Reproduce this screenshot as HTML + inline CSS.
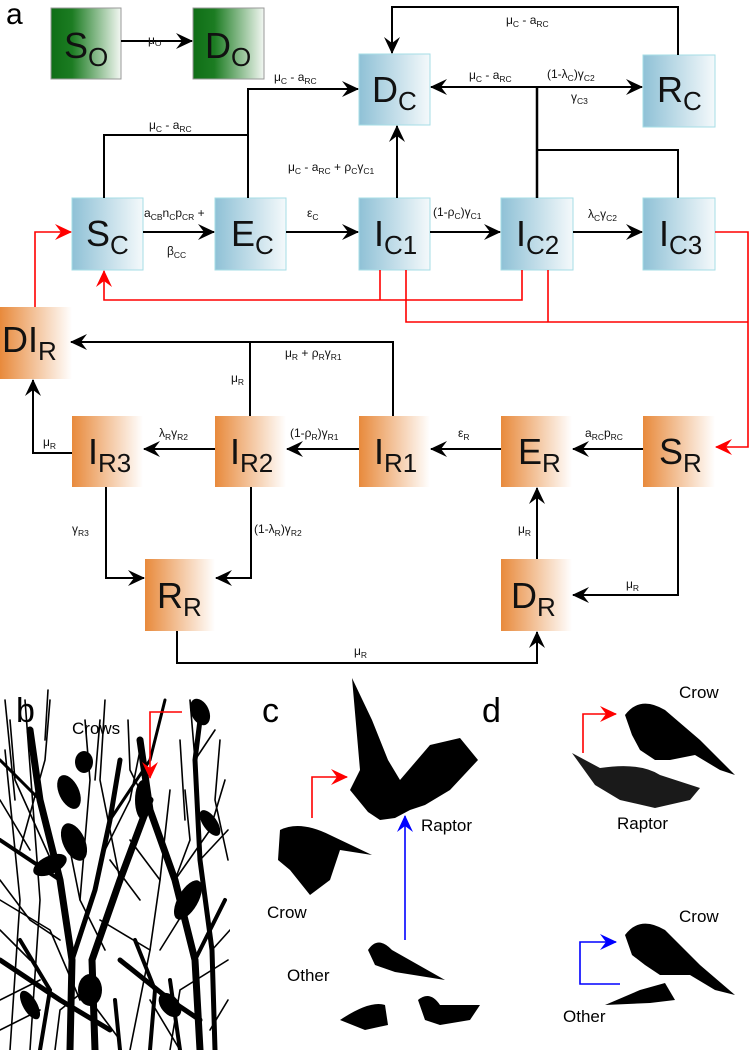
<!DOCTYPE html>
<html><head><meta charset="utf-8"><style>
html,body{margin:0;padding:0;background:#fff}
svg{display:block;font-family:"Liberation Sans","DejaVu Sans",sans-serif}
.l{font-size:12px}
.s{font-size:8.5px}
.b{font-size:36px}
</style></head><body>
<svg width="750" height="1050" viewBox="0 0 750 1050" xmlns="http://www.w3.org/2000/svg">
<defs>
<linearGradient id="gb" x1="0" x2="1"><stop offset="0" stop-color="#8fc1d6"/><stop offset="1" stop-color="#f4f9fb"/></linearGradient>
<linearGradient id="go" x1="0" x2="1"><stop offset="0" stop-color="#e88a3c"/><stop offset="1" stop-color="#ffffff"/></linearGradient>
<linearGradient id="gg" x1="0" x2="1"><stop offset="0" stop-color="#0f6e16"/><stop offset="0.3" stop-color="#1c7c22"/><stop offset="1" stop-color="#f2f7f2"/></linearGradient>
<marker id="a" markerWidth="18" markerHeight="16" refX="16" refY="8" orient="auto" markerUnits="userSpaceOnUse"><path d="M0,0 L17,8 L0,16 L6,8 z" fill="#000"/></marker>
<marker id="r" markerWidth="18" markerHeight="16" refX="16" refY="8" orient="auto" markerUnits="userSpaceOnUse"><path d="M0,0 L17,8 L0,16 L6,8 z" fill="#f00"/></marker>
<marker id="u" markerWidth="18" markerHeight="16" refX="16" refY="8" orient="auto" markerUnits="userSpaceOnUse"><path d="M0,0 L17,8 L0,16 L6,8 z" fill="#00f"/></marker>
</defs>

<text x="6" y="24" font-size="30">a</text>

<g stroke="#999" stroke-width="1"><rect x="51" y="8" width="70" height="71" fill="url(#gg)"/><rect x="193" y="8" width="71" height="71" fill="url(#gg)"/></g>
<g stroke="#a6dde6" stroke-width="1" fill="url(#gb)">
<rect x="359" y="54" width="71" height="71"/><rect x="643" y="55" width="72" height="72"/>
<rect x="72" y="198" width="71" height="72"/><rect x="215" y="198" width="71" height="72"/><rect x="359" y="198" width="71" height="72"/><rect x="501" y="198" width="72" height="72"/><rect x="643" y="198" width="72" height="72"/>
</g>
<g fill="url(#go)">
<rect x="0" y="307" width="72" height="72"/>
<rect x="72" y="416" width="71" height="71"/><rect x="215" y="416" width="71" height="71"/><rect x="359" y="416" width="71" height="71"/><rect x="501" y="416" width="71" height="71"/><rect x="643" y="416" width="72" height="71"/>
<rect x="145" y="559" width="70" height="72"/><rect x="501" y="559" width="71" height="72"/>
</g>

<g class="b" fill="#111">
<text x="64" y="58">S<tspan font-size="26" dy="8">O</tspan></text>
<text x="205" y="58">D<tspan font-size="26" dy="8">O</tspan></text>
<text x="372" y="102">D<tspan font-size="26" dy="8">C</tspan></text>
<text x="657" y="102">R<tspan font-size="26" dy="8">C</tspan></text>
<text x="86" y="246">S<tspan font-size="26" dy="8">C</tspan></text>
<text x="231" y="246">E<tspan font-size="26" dy="8">C</tspan></text>
<text x="374" y="246">I<tspan font-size="26" dy="8">C1</tspan></text>
<text x="516" y="246">I<tspan font-size="26" dy="8">C2</tspan></text>
<text x="659" y="246">I<tspan font-size="26" dy="8">C3</tspan></text>
<text x="2" y="352">DI<tspan font-size="26" dy="8">R</tspan></text>
<text x="88" y="464">I<tspan font-size="26" dy="8">R3</tspan></text>
<text x="230" y="464">I<tspan font-size="26" dy="8">R2</tspan></text>
<text x="374" y="464">I<tspan font-size="26" dy="8">R1</tspan></text>
<text x="518" y="464">E<tspan font-size="26" dy="8">R</tspan></text>
<text x="659" y="464">S<tspan font-size="26" dy="8">R</tspan></text>
<text x="157" y="608">R<tspan font-size="26" dy="8">R</tspan></text>
<text x="511" y="608">D<tspan font-size="26" dy="8">R</tspan></text>
</g>

<g stroke="#000" stroke-width="2" fill="none">
<line x1="121" y1="41" x2="192" y2="41" marker-end="url(#a)"/>
<polyline points="678,55 678,7 392,7 392,53" marker-end="url(#a)"/>
<polyline points="248,198 248,89 358,89" marker-end="url(#a)"/>
<polyline points="104,198 104,135 248,135"/>
<line x1="397" y1="198" x2="397" y2="126" marker-end="url(#a)"/>
<line x1="537" y1="87" x2="431" y2="87" marker-end="url(#a)"/>
<line x1="537" y1="87" x2="642" y2="87" marker-end="url(#a)"/>
<line x1="537" y1="87" x2="537" y2="198" stroke-width="2.5"/>
<polyline points="678,198 678,150 537,150"/>
<line x1="143" y1="232" x2="214" y2="232" marker-end="url(#a)"/>
<line x1="286" y1="232" x2="358" y2="232" marker-end="url(#a)"/>
<line x1="430" y1="232" x2="500" y2="232" marker-end="url(#a)"/>
<line x1="573" y1="232" x2="642" y2="232" marker-end="url(#a)"/>
<polyline points="393,416 393,342 71,342" marker-end="url(#a)"/>
<line x1="250" y1="416" x2="250" y2="342"/>
<line x1="643" y1="449" x2="573" y2="449" marker-end="url(#a)"/>
<line x1="501" y1="449" x2="431" y2="449" marker-end="url(#a)"/>
<line x1="359" y1="449" x2="287" y2="449" marker-end="url(#a)"/>
<line x1="215" y1="449" x2="144" y2="449" marker-end="url(#a)"/>
<polyline points="72,453 33,453 33,380" marker-end="url(#a)"/>
<polyline points="106,487 106,578 144,578" marker-end="url(#a)"/>
<polyline points="251,487 251,578 216,578" marker-end="url(#a)"/>
<line x1="537" y1="559" x2="537" y2="488" marker-end="url(#a)"/>
<polyline points="678,487 678,595 573,595" marker-end="url(#a)"/>
<polyline points="177,631 177,663 537,663 537,632" marker-end="url(#a)"/>
</g>

<g stroke="#f00" stroke-width="1.6" fill="none">
<polyline points="35,307 35,232 71,232" marker-end="url(#r)"/>
<polyline points="522,270 522,300 104,300 104,271" marker-end="url(#r)"/>
<line x1="380" y1="270" x2="380" y2="300"/>
<polyline points="406,270 406,322 748,322"/>
<line x1="548" y1="270" x2="548" y2="322"/>
<polyline points="715,232 748,232 748,447 716,447" marker-end="url(#r)"/>
</g>

<g class="l" fill="#111">
<text x="148" y="44">μ<tspan class="s" dy="2">O</tspan></text>
<text x="506" y="24">μ<tspan class="s" dy="3">C</tspan><tspan dy="-3"> - a</tspan><tspan class="s" dy="3">RC</tspan></text>
<text x="274" y="81">μ<tspan class="s" dy="3">C</tspan><tspan dy="-3"> - a</tspan><tspan class="s" dy="3">RC</tspan></text>
<text x="149" y="129">μ<tspan class="s" dy="3">C</tspan><tspan dy="-3"> - a</tspan><tspan class="s" dy="3">RC</tspan></text>
<text x="288" y="171">μ<tspan class="s" dy="3">C</tspan><tspan dy="-3"> - a</tspan><tspan class="s" dy="3">RC</tspan><tspan dy="-3"> + ρ</tspan><tspan class="s" dy="3">C</tspan><tspan dy="-3">γ</tspan><tspan class="s" dy="3">C1</tspan></text>
<text x="469" y="79">μ<tspan class="s" dy="3">C</tspan><tspan dy="-3"> - a</tspan><tspan class="s" dy="3">RC</tspan></text>
<text x="547" y="78">(1-λ<tspan class="s" dy="3">C</tspan><tspan dy="-3">)γ</tspan><tspan class="s" dy="3">C2</tspan></text>
<text x="571" y="101">γ<tspan class="s" dy="3">C3</tspan></text>
<text x="144" y="217">a<tspan class="s" dy="3">CB</tspan><tspan dy="-3">n</tspan><tspan class="s" dy="3">C</tspan><tspan dy="-3">p</tspan><tspan class="s" dy="3">CR</tspan><tspan dy="-3"> +</tspan></text>
<text x="167" y="255">β<tspan class="s" dy="3">CC</tspan></text>
<text x="307" y="217">ε<tspan class="s" dy="3">C</tspan></text>
<text x="433" y="216">(1-ρ<tspan class="s" dy="3">C</tspan><tspan dy="-3">)γ</tspan><tspan class="s" dy="3">C1</tspan></text>
<text x="588" y="218">λ<tspan class="s" dy="3">C</tspan><tspan dy="-3">γ</tspan><tspan class="s" dy="3">C2</tspan></text>
<text x="285" y="357">μ<tspan class="s" dy="3">R</tspan><tspan dy="-3"> + ρ</tspan><tspan class="s" dy="3">R</tspan><tspan dy="-3">γ</tspan><tspan class="s" dy="3">R1</tspan></text>
<text x="231" y="382">μ<tspan class="s" dy="3">R</tspan></text>
<text x="159" y="437">λ<tspan class="s" dy="3">R</tspan><tspan dy="-3">γ</tspan><tspan class="s" dy="3">R2</tspan></text>
<text x="290" y="437">(1-ρ<tspan class="s" dy="3">R</tspan><tspan dy="-3">)γ</tspan><tspan class="s" dy="3">R1</tspan></text>
<text x="458" y="437">ε<tspan class="s" dy="3">R</tspan></text>
<text x="585" y="437">a<tspan class="s" dy="3">RC</tspan><tspan dy="-3">p</tspan><tspan class="s" dy="3">RC</tspan></text>
<text x="43" y="446">μ<tspan class="s" dy="3">R</tspan></text>
<text x="72" y="533">γ<tspan class="s" dy="3">R3</tspan></text>
<text x="254" y="533">(1-λ<tspan class="s" dy="3">R</tspan><tspan dy="-3">)γ</tspan><tspan class="s" dy="3">R2</tspan></text>
<text x="518" y="533">μ<tspan class="s" dy="3">R</tspan></text>
<text x="626" y="588">μ<tspan class="s" dy="3">R</tspan></text>
<text x="354" y="655">μ<tspan class="s" dy="3">R</tspan></text>
</g>

<!-- panel b: tree -->
<g stroke="#000" fill="none" stroke-linecap="round">
<path d="M70,1050 L72,960 L60,880 L40,800 L30,730" stroke-width="7"/>
<path d="M72,960 L95,890 L110,820 L120,760" stroke-width="5"/>
<path d="M95,1050 L92,960 L120,880 L150,800" stroke-width="7"/>
<path d="M200,1050 L195,960 L175,880 L150,810 L140,740" stroke-width="7"/>
<path d="M215,1050 L212,950 L200,860 L195,760 L200,720" stroke-width="5"/>
<path d="M195,960 L225,900" stroke-width="4"/>
<path d="M60,880 L0,840" stroke-width="4"/>
<path d="M40,800 L0,760" stroke-width="3"/>
<path d="M110,820 L150,760 L165,700" stroke-width="3"/>
<path d="M0,960 L60,1000 L110,1030" stroke-width="5"/>
<path d="M120,960 L170,1000 L200,1020" stroke-width="5"/>
<path d="M40,1050 L50,990 L20,940" stroke-width="4"/>
<path d="M150,1050 L155,990 L135,940" stroke-width="4"/>
<path d="M180,1050 L170,980" stroke-width="4"/>
<path d="M120,1050 L115,1000" stroke-width="4"/>
<g stroke-width="1.6">
<path d="M10,1050 L20,900 L5,750"/><path d="M30,1050 L40,900 L25,700"/><path d="M45,740 L48,690"/>
<path d="M0,900 L50,930 L80,1000"/><path d="M0,1000 L40,980"/><path d="M20,850 L45,760 L50,700"/>
<path d="M80,900 L90,780 L85,720"/><path d="M100,860 L130,800 L140,750"/><path d="M60,880 L15,780 L10,720"/>
<path d="M120,880 L100,780 L105,700"/><path d="M130,1050 L150,950 L160,880 L170,790"/><path d="M150,950 L100,920"/>
<path d="M160,880 L130,840"/><path d="M175,880 L190,840 L185,790"/><path d="M175,880 L210,830 L225,780"/>
<path d="M150,810 L130,770 L128,720"/><path d="M195,760 L215,730"/><path d="M200,860 L228,830"/>
<path d="M212,950 L230,930"/><path d="M170,1050 L180,990 L228,960"/><path d="M0,800 L30,850"/>
<path d="M90,1000 L120,1040"/><path d="M150,1000 L180,1050"/><path d="M190,700 L195,760"/>
<path d="M0,880 L30,920 L60,940"/><path d="M0,930 L30,960"/><path d="M0,1030 L40,1010"/>
<path d="M55,1050 L60,1010 L85,990"/><path d="M105,950 L80,900 L70,850"/><path d="M5,700 L15,800"/>
<path d="M140,900 L110,860"/><path d="M160,950 L185,910"/><path d="M228,1000 L210,1030"/>
<path d="M180,740 L185,820"/><path d="M220,740 L215,800 L228,860"/><path d="M100,720 L95,780"/>
</g>
</g>
<rect x="230" y="697" width="2" height="353" fill="#fff"/>
<g fill="#000">
<ellipse cx="200" cy="712" rx="9" ry="14" transform="rotate(-25 200 712)"/>
<ellipse cx="84" cy="762" rx="9" ry="11"/>
<ellipse cx="69" cy="792" rx="10" ry="18" transform="rotate(-25 69 792)"/>
<ellipse cx="74" cy="842" rx="11" ry="20" transform="rotate(-25 74 842)"/>
<ellipse cx="50" cy="865" rx="18" ry="9" transform="rotate(-25 50 865)"/>
<ellipse cx="143" cy="800" rx="8" ry="20"/>
<ellipse cx="210" cy="823" rx="7" ry="15" transform="rotate(-35 210 823)"/>
<ellipse cx="188" cy="900" rx="10" ry="22" transform="rotate(30 188 900)"/>
<ellipse cx="30" cy="1005" rx="7" ry="16" transform="rotate(-30 30 1005)"/>
<ellipse cx="90" cy="990" rx="12" ry="16"/>
<ellipse cx="170" cy="1005" rx="9" ry="14" transform="rotate(-40 170 1005)"/>
</g>
<polyline points="182,712 150,712 150,778" stroke="#f00" stroke-width="1.6" fill="none" marker-end="url(#r)"/>
<text x="16" y="722" font-size="34">b</text>
<text x="72" y="734" font-size="17">Crows</text>

<text x="262" y="722" font-size="34">c</text>
<text x="482" y="722" font-size="34">d</text>
<g fill="#000">
<path d="M352,678 L372,720 L388,760 L400,780 L430,745 L460,738 L478,760 L450,790 L425,805 L410,810 L395,818 L380,820 L368,812 L350,790 L360,770 Z"/>
<path d="M280,830 Q300,820 330,835 L372,855 L340,850 L330,880 L310,895 L290,870 L278,860 Z"/>
<path d="M368,950 Q378,935 392,950 L445,980 L395,972 L375,965 Z"/>
<path d="M340,1020 Q370,1000 385,1005 L388,1025 L365,1030 Z"/>
<path d="M418,1000 Q430,990 440,1005 L480,1005 L470,1020 L440,1025 L425,1020 Z"/>
</g>
<polyline points="312,818 312,777 347,777" stroke="#f00" stroke-width="1.6" fill="none" marker-end="url(#r)"/>
<line x1="405" y1="940" x2="405" y2="816" stroke="#00f" stroke-width="1.6" marker-end="url(#u)"/>
<text x="421" y="831" font-size="17">Raptor</text>
<text x="267" y="918" font-size="17">Crow</text>
<text x="287" y="981" font-size="17">Other</text>

<g fill="#000">
<path d="M625,715 Q640,695 665,710 L700,740 L735,775 L720,770 L695,755 L670,760 L655,760 L640,750 L632,735 Z"/>
<path d="M572,753 L600,768 Q640,762 660,775 L700,788 L690,800 L655,808 L620,800 L595,785 Z" fill="#1a1a1a"/>
<path d="M625,935 Q640,915 665,930 L700,965 L735,995 L715,990 L690,975 L672,975 L660,975 L645,965 L632,955 Z"/>
<path d="M605,1005 L640,990 L665,983 L675,1000 L650,1003 Z"/>
</g>
<polyline points="583,753 583,714 616,714" stroke="#f00" stroke-width="1.6" fill="none" marker-end="url(#r)"/>
<polyline points="620,984 580,984 580,942 616,942" stroke="#00f" stroke-width="1.6" fill="none" marker-end="url(#u)"/>
<text x="679" y="698" font-size="17">Crow</text>
<text x="617" y="829" font-size="17">Raptor</text>
<text x="679" y="922" font-size="17">Crow</text>
<text x="563" y="1022" font-size="17">Other</text>
</svg>
</body></html>
